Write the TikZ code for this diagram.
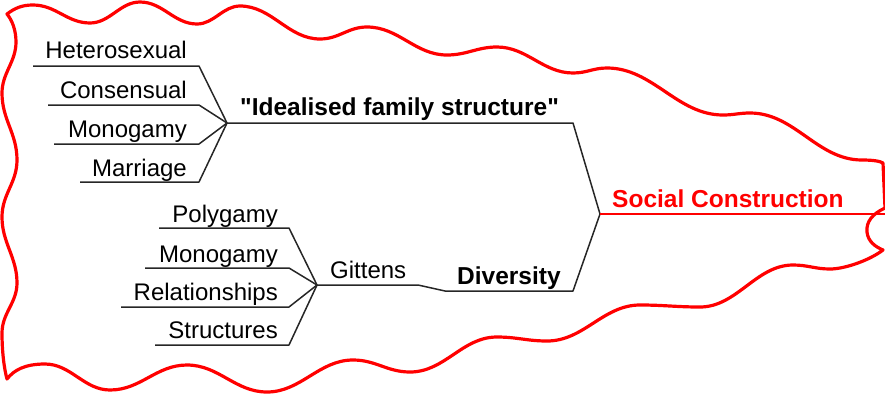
\documentclass[tikz,border=0pt]{standalone}
\usepackage{fontspec}
\newfontfamily\lib{Liberation Sans}
\begin{document}
\begin{tikzpicture}[x=1pt,y=-1pt,
  lbl/.style={inner sep=0pt,font=\lib\fontsize{24}{28}\selectfont,anchor=base east},
  hd/.style={inner sep=0pt,font=\lib\fontsize{24.5}{28}\selectfont\bfseries,anchor=base west},
  branch/.style={draw=black!85,line width=1.5pt,line join=round},
  blob/.style={draw=red,line width=3.2pt,line join=round}]
\useasboundingbox (0,0) rectangle (885,394);
% cloud outline
\draw[blob]
  % top edge
  (7,14) .. controls (15,8) and (22,5) .. (33,5)
  .. controls (56,5) and (67,23) .. (90,23)
  .. controls (110,23) and (120,2) .. (140,2)
  .. controls (163,2) and (174,24) .. (197,24)
  .. controls (214,24) and (223,6) .. (240,6)
  .. controls (272,6) and (288,39) .. (320,39)
  .. controls (339,39) and (348,27) .. (367,27)
  .. controls (399,27) and (415,55) .. (447,55)
  .. controls (467,55) and (477,47) .. (497,47)
  .. controls (527,47) and (543,73) .. (573,73)
  .. controls (587,73) and (593,68) .. (607,68)
  .. controls (653,68) and (677,115) .. (723,115)
  .. controls (734,115) and (739,113) .. (750,113)
  .. controls (795,113) and (817,160) .. (862,160)
  .. controls (872,160) and (880,161) .. (883,163)
  % right edge
  -- (885,208)
  .. controls (872,214) and (866,222) .. (867,232)
  .. controls (868,242) and (876,247) .. (883,250)
  % bottom edge
  .. controls (870,260) and (845,269) .. (830,269)
  .. controls (815,269) and (808,265) .. (793,265)
  .. controls (756,265) and (737,307) .. (700,307)
  .. controls (676,307) and (664,305) .. (640,305)
  .. controls (603,305) and (584,341) .. (547,341)
  .. controls (527,341) and (517,337) .. (497,337)
  .. controls (462,337) and (445,372) .. (410,372)
  .. controls (387,372) and (376,360) .. (353,360)
  .. controls (319,360) and (301,392) .. (267,392)
  .. controls (235,392) and (219,365) .. (187,365)
  .. controls (156,365) and (141,390) .. (110,390)
  .. controls (84,390) and (71,364) .. (45,364)
  .. controls (25,364) and (14,370) .. (7,379)
  % left edge
  .. controls (4,368) and (2,351) .. (2,333)
  .. controls (2,313) and (17,303) .. (17,283)
  .. controls (17,257) and (2,243) .. (2,217)
  .. controls (2,194) and (17,183) .. (17,160)
  .. controls (17,133) and (2,120) .. (2,93)
  .. controls (2,73) and (16,62) .. (16,42)
  .. controls (16,30) and (12,20) .. (7,14) -- cycle;
% hubs and junctions
\coordinate (hub1) at (227,123);
\coordinate (hub2) at (317,285);
\coordinate (root) at (600,214);
\coordinate (ideal-r) at (573,123);
\coordinate (div-r) at (573,291);
\coordinate (div-l) at (445,291);
\coordinate (git-r) at (418,285);
\coordinate (soc-r) at (885,214);
% upper labels
\node[lbl] (het) at (187,58) {Heterosexual};
\node[lbl] (con) at (187,98) {Consensual};
\node[lbl] (mon1) at (187,137) {Monogamy};
\node[lbl] (mar) at (187,176) {Marriage};
\coordinate (het-l) at (33,66);  \coordinate (het-r) at (199,66);
\coordinate (con-l) at (48,105); \coordinate (con-r) at (199,105);
\coordinate (mon1-l) at (54,144); \coordinate (mon1-r) at (199,144);
\coordinate (mar-l) at (80,182); \coordinate (mar-r) at (199,182);
\draw[branch] (het-l) -- (het-r) -- (hub1);
\draw[branch] (con-l) -- (con-r) -- (hub1);
\draw[branch] (mon1-l) -- (mon1-r) -- (hub1);
\draw[branch] (mar-l) -- (mar-r) -- (hub1);
% lower labels
\node[lbl] (pol) at (278,222) {Polygamy};
\node[lbl] (mon2) at (278,262) {Monogamy};
\node[lbl] (rel) at (278,300) {Relationships};
\node[lbl] (str) at (278,338) {Structures};
\coordinate (pol-l) at (159,228); \coordinate (pol-r) at (289,228);
\coordinate (mon2-l) at (145,268); \coordinate (mon2-r) at (289,268);
\coordinate (rel-l) at (121,307); \coordinate (rel-r) at (289,307);
\coordinate (str-l) at (155,345); \coordinate (str-r) at (289,345);
\draw[branch] (pol-l) -- (pol-r) -- (hub2);
\draw[branch] (mon2-l) -- (mon2-r) -- (hub2);
\draw[branch] (rel-l) -- (rel-r) -- (hub2);
\draw[branch] (str-l) -- (str-r) -- (hub2);
% middle headings
\node[hd] (ideal) at (240,115) {"Idealised family structure"};
\node[hd] (div) at (457,284) {Diversity};
\node[lbl,anchor=base west] (git) at (330,278) {Gittens};
\node[hd,text=red] (soc) at (612,207) {Social Construction};
\draw[branch] (hub1) -- (ideal-r) -- (root) -- (div-r) -- (div-l) -- (git-r) -- (hub2);
\draw[draw=red,line width=1.5pt] (root) -- (soc-r);
\end{tikzpicture}
\end{document}
